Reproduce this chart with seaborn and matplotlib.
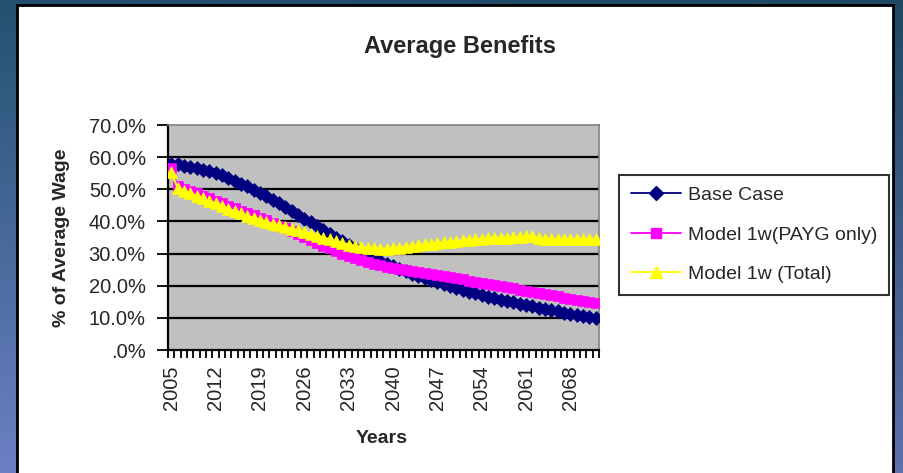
import numpy as np
import matplotlib
matplotlib.use("Agg")
import matplotlib.pyplot as plt
import seaborn as sns
from matplotlib.patches import Rectangle
from matplotlib.lines import Line2D
from matplotlib.ticker import FixedLocator, FuncFormatter

# ---- data: average benefit as % of average wage, 2005-2072 ----
years = list(range(2005, 2073))

base_case = [
    58.0, 57.8, 57.4, 57.0, 56.6, 56.1, 55.6, 55.0, 54.3, 53.5,
    52.7, 51.8, 50.9, 49.9, 48.9, 47.8, 46.7, 45.6, 44.5, 43.3,
    42.1, 40.9, 39.7, 38.5, 37.3, 36.1, 34.9, 33.8, 32.7, 31.6,
    30.6, 29.6, 28.7, 27.8, 26.9, 26.1, 25.3, 24.5, 23.8, 23.1,
    22.4, 21.7, 21.1, 20.5, 19.9, 19.3, 18.7, 18.1, 17.6, 17.1,
    16.6, 16.1, 15.6, 15.2, 14.8, 14.4, 14.0, 13.6, 13.2, 12.8,
    12.4, 12.0, 11.6, 11.3, 11.0, 10.6, 10.3, 9.9,
]

payg_only = [
    56.5, 51.0, 50.2, 49.5, 48.8, 48.0, 47.2, 46.4, 45.6, 44.9,
    44.1, 43.4, 42.6, 41.9, 41.1, 40.3, 39.5, 38.7, 37.9, 37.0,
    36.1, 35.2, 34.3, 33.4, 32.5, 31.6, 30.8, 30.0, 29.2, 28.5,
    27.9, 27.3, 26.8, 26.3, 25.9, 25.5, 25.1, 24.8, 24.5, 24.2,
    23.9, 23.6, 23.3, 23.0, 22.6, 22.3, 22.0, 21.6, 21.3, 20.9,
    20.6, 20.2, 19.9, 19.5, 19.2, 18.8, 18.5, 18.1, 17.8, 17.4,
    17.0, 16.7, 16.3, 15.9, 15.6, 15.2, 14.8, 14.5,
]

total = [
    55.5, 50.5, 49.6, 48.8, 48.0, 47.2, 46.4, 45.6, 44.8, 44.0,
    43.2, 42.5, 41.8, 41.1, 40.4, 39.8, 39.3, 38.8, 38.3, 37.8,
    37.3, 36.8, 36.2, 35.6, 35.0, 34.4, 33.8, 33.3, 32.8, 32.4,
    32.0, 31.8, 31.6, 31.5, 31.5, 31.6, 31.8, 32.0, 32.3, 32.6,
    32.9, 33.1, 33.3, 33.5, 33.7, 33.9, 34.1, 34.3, 34.5, 34.6,
    34.7, 34.8, 34.9, 35.0, 35.1, 35.3, 35.5, 35.4, 34.8, 34.6,
    34.6, 34.6, 34.6, 34.6, 34.6, 34.6, 34.6, 34.6,
]

series_names = ["Base Case", "Model 1w(PAYG only)", "Model 1w (Total)"]
series_values = [base_case, payg_only, total]
series_colors = ["#000080", "#FF00FF", "#FFFF00"]
series_markers = ["D", "s", "^"]
series_msizes = [7.5, 7.5, 9.0]

y_ticks = [0, 10, 20, 30, 40, 50, 60, 70]
label_step = 7

sns.set_theme(style="white")
plt.rcParams["font.family"] = ["Liberation Sans", "DejaVu Sans"]

W, H = 904, 473
fig = plt.figure(figsize=(W / 100, H / 100), dpi=100)

# blue gradient backdrop
bg = fig.add_axes([0, 0, 1, 1], zorder=-10)
ny, nx = 200, 200
t = np.linspace(0, 1, ny)[:, None]
s = np.linspace(0, 1, nx)[None, :]
top = np.array([34, 82, 112]) / 255
bottom = np.array([108, 128, 196]) / 255
img = top[None, None, :] * (1 - t[..., None]) + bottom[None, None, :] * t[..., None]
img = img * (1 - 0.12 * s[..., None])
bg.imshow(np.clip(img, 0, 1), aspect="auto", extent=[0, 1, 0, 1], origin="upper")
bg.axis("off")

# white chart panel
fig.patches.append(Rectangle((17 / W, -0.02), (893 - 17) / W, (473 - 5) / H + 0.02,
                             transform=fig.transFigure, facecolor="white",
                             edgecolor="black", lw=2, zorder=-5))

ax = fig.add_axes([168 / W, 1 - 350 / H, (599 - 168) / W, (350 - 125) / H])
ax.set_facecolor("#C0C0C0")

x = np.arange(len(years))
for vals, name, c, m, ms in zip(series_values, series_names, series_colors,
                                series_markers, series_msizes):
    sns.lineplot(x=x, y=vals, ax=ax, color=c, marker=m, markersize=ms,
                 markeredgecolor=c, markeredgewidth=0.5, linewidth=1.5,
                 legend=False, zorder=3)

ax.set_xlim(-0.5, len(years) - 0.5)
ax.set_ylim(0, 70)

for yv in y_ticks[1:-1]:
    ax.axhline(yv, color="black", lw=1.6, zorder=1)

ax.yaxis.set_major_locator(FixedLocator(y_ticks))
ax.yaxis.set_major_formatter(FuncFormatter(lambda v, p: f"{v:.1f}%" if v else ".0%"))
ax.tick_params(axis="y", which="major", direction="out", length=8, width=1.3,
               color="black", pad=8, labelsize=14.5, left=True)

ax.xaxis.set_major_locator(FixedLocator(list(range(0, len(years), label_step))))
ax.set_xticklabels([str(years[i]) for i in range(0, len(years), label_step)],
                   rotation=90, fontsize=14.5)
ax.xaxis.set_minor_locator(FixedLocator(list(np.arange(-0.5, len(years), 1.0))))
ax.tick_params(axis="x", which="major", length=0, pad=11, bottom=True)
ax.tick_params(axis="x", which="minor", direction="out", length=6, width=1.3,
               color="black", bottom=True)

for side in ("top", "right"):
    ax.spines[side].set_color("#808080")
    ax.spines[side].set_linewidth(1.2)
for side in ("left", "bottom"):
    ax.spines[side].set_color("black")
    ax.spines[side].set_linewidth(1.6)
ax.set_xlabel("")
ax.set_ylabel("")

fig.text(460 / W, 1 - 46 / H, "Average Benefits", ha="center", va="center",
         fontsize=17, fontweight="bold")
fig.text(62 / W, 1 - 238 / H, "% of Average Wage", ha="center", va="center",
         rotation=90, fontsize=14, fontweight="bold")
fig.text(382 / W, 1 - 438 / H, "Years", ha="center", va="center",
         fontsize=14, fontweight="bold")

handles = [Line2D([], [], color=c, marker=m, markersize=ms, markeredgecolor=c, lw=1.3)
           for c, m, ms in zip(series_colors, series_markers, series_msizes)]
leg = fig.legend(handles, series_names, loc="upper left",
                 bbox_to_anchor=(619 / W, 1 - 175 / H), borderaxespad=0,
                 fontsize=14, frameon=True, fancybox=False, handlelength=2.6,
                 handletextpad=0.35, labelspacing=1.12, borderpad=0.6)
leg.get_frame().set_edgecolor("black")
leg.get_frame().set_linewidth(1.5)
leg.get_frame().set_facecolor("white")

fig.savefig("out.png", dpi=100)
